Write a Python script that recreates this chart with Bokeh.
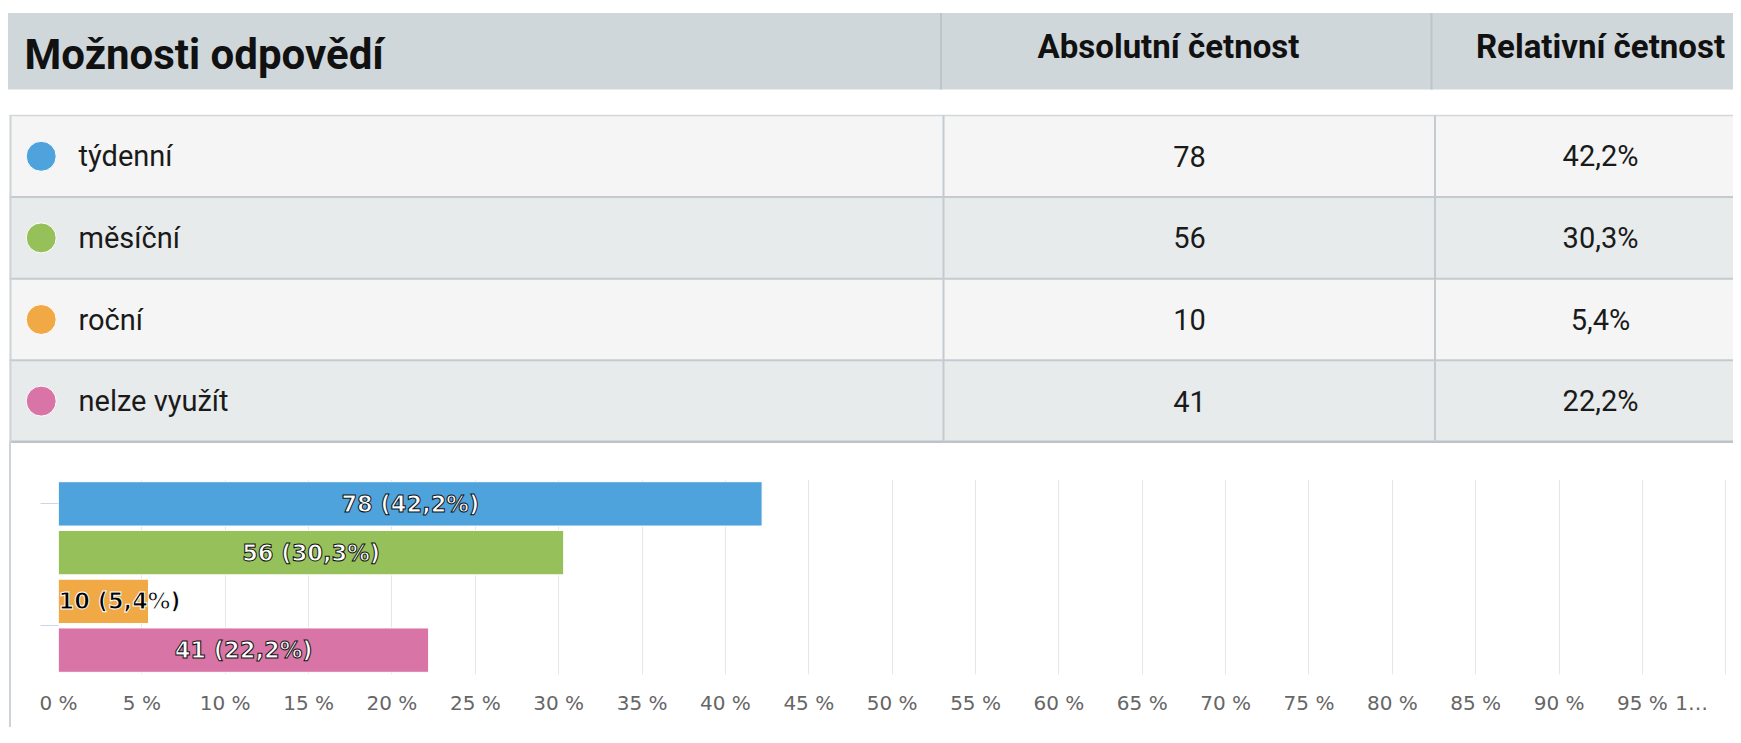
from bokeh.plotting import figure
from bokeh.models import Range1d, FixedTicker, Div
from bokeh.layouts import column, row
from bokeh.core.properties import value
from bokeh.embed import file_html
from bokeh.resources import INLINE

# ---------------- data ----------------
categories = ["týdenní", "měsíční", "roční", "nelze využít"]
counts = [78, 56, 10, 41]
percents = [42.2, 30.3, 5.4, 22.2]
colors = ["#4fa3dc", "#96c15a", "#f0a944", "#d874a6"]
header_title = "Možnosti odpovědí"
col_headers = ["Absolutní četnost", "Relativní četnost"]
tick_values = list(range(0, 101, 5))
tick_labels = [f"{t} %" for t in tick_values[:-1]] + ["1…" + "\u00a0" * 4]


def cz(p):
    return f"{p:.1f}".replace(".", ",") + "%"


pct_texts = [cz(p) for p in percents]
count_texts = [str(c) for c in counts]
bar_texts = [f"{c} ({cz(p)})" for c, p in zip(counts, percents)]

# ---------------- layout constants ----------------
W = 1733
TABLE_H = 443
CHART_H = 284
FONT = "Roboto"

# ---------------- table ----------------
t = figure(width=W, height=TABLE_H, x_range=Range1d(0, W), y_range=Range1d(TABLE_H, 0),
           output_backend="svg", toolbar_location=None, min_border=0,
           x_axis_location=None, y_axis_location=None)
t.grid.visible = False
t.outline_line_color = None
t.background_fill_color = "white"
t.border_fill_color = "white"

# header
t.quad(left=7.5, right=W, top=12.5, bottom=89, fill_color="#d0d7db", line_color=None)
t.segment(x0=[940.5, 1431], y0=[12.5, 12.5], x1=[940.5, 1431], y1=[89, 89],
          line_color="#bcc5c9", line_width=2)
t.text(x=[24], y=[54], text=[header_title], text_font=value(FONT), text_font_size="42px",
       text_font_style="bold", text_baseline="middle", text_color="#111111")
t.text(x=[1168, 1600], y=[46, 46], text=col_headers, text_font=value(FONT),
       text_font_size="33px", text_font_style="bold", text_align="center",
       text_baseline="middle", text_color="#111111")

# rows
row_top = 115
row_h = 81.6
n = len(categories)
tops = [row_top + i * row_h for i in range(n)]
bottoms = [tp + row_h for tp in tops]
centers = [tp + row_h / 2 for tp in tops]
row_fill = ["#f5f5f5" if i % 2 == 0 else "#e8ebec" for i in range(n)]
t.quad(left=9, right=W, top=tops, bottom=bottoms, fill_color=row_fill, line_color=None)

t.segment(x0=[9], y0=[row_top], x1=[W], y1=[row_top], line_color="#d2d7da", line_width=1.5)
t.segment(x0=[9] * (n - 1), y0=bottoms[:-1], x1=[W] * (n - 1), y1=bottoms[:-1],
          line_color="#c3cbcf", line_width=2)
t.segment(x0=[9], y0=[bottoms[-1]], x1=[W], y1=[bottoms[-1]], line_color="#bcc4c8", line_width=3)
t.segment(x0=[10], y0=[row_top], x1=[10], y1=[TABLE_H], line_color="#cdd3d6", line_width=2)
t.segment(x0=[943, 1434.5], y0=[row_top, row_top], x1=[943, 1434.5], y1=[bottoms[-1]] * 2,
          line_color="#c3cbcf", line_width=2)

t.scatter(x=[40.7] * n, y=centers, size=30, marker="circle", fill_color=colors,
          line_color="white", line_width=1)
t.text(x=[78] * n, y=centers, text=categories, text_font=value(FONT), text_font_size="29px",
       text_baseline="middle", text_color="#1a1a1a")
t.text(x=[1189] * n, y=centers, text=count_texts, text_font=value(FONT), text_font_size="29px",
       text_baseline="middle", text_align="center", text_color="#1a1a1a")
t.text(x=[1600] * n, y=centers, text=pct_texts, text_font=value(FONT), text_font_size="29px",
       text_baseline="middle", text_align="center", text_color="#1a1a1a")

# ---------------- bar chart ----------------
CW = W - 11
c = figure(width=CW, height=CHART_H, x_range=Range1d(0, 100.46), y_range=Range1d(4, 0),
           output_backend="svg", toolbar_location=None,
           min_border_left=47, min_border_right=0, min_border_top=36, min_border_bottom=53)
c.outline_line_color = None
c.background_fill_color = "white"
c.border_fill_color = "white"
c.ygrid.visible = False
c.xgrid.grid_line_color = "#e6e6e6"
c.xgrid.grid_line_width = 1

c.xaxis.ticker = FixedTicker(ticks=tick_values)
c.xaxis.major_label_overrides = dict(zip(tick_values, tick_labels))
c.xaxis.axis_line_color = None
c.xaxis.major_tick_line_color = None
c.xaxis.minor_tick_line_color = None
c.xaxis.major_label_text_font = "DejaVu Sans"
c.xaxis.major_label_text_font_size = "20px"
c.xaxis.major_label_text_color = "#666666"
c.xaxis.major_label_standoff = 10

c.yaxis.ticker = FixedTicker(ticks=[0.5, 3.0])
c.yaxis.major_label_overrides = {0.5: "", 3.0: ""}
c.yaxis.axis_line_color = None
c.yaxis.minor_tick_line_color = None
c.yaxis.major_tick_line_color = "#ccd6eb"
c.yaxis.major_tick_in = 0
c.yaxis.major_tick_out = 18

ys = [i + 0.5 for i in range(n)]
c.hbar(y=ys, left=0, right=percents, height=0.91, fill_color=colors, line_color="white",
       line_width=1)

inside = [i for i in range(n) if percents[i] >= 10]
outside = [i for i in range(n) if percents[i] < 10]
c.text(x=[percents[i] / 2 for i in inside], y=[ys[i] for i in inside],
       text=[bar_texts[i] for i in inside], text_font=value("DejaVu Sans"),
       text_font_size="22.5px", text_font_style="bold", text_align="center",
       text_baseline="middle", text_color="white", text_outline_color="#111111")
c.text(x=[0] * len(outside), y=[ys[i] for i in outside],
       text=[bar_texts[i] for i in outside], text_font=value("DejaVu Sans"),
       text_font_size="22.5px", text_font_style="bold", text_align="left",
       text_baseline="middle", text_color="black", text_outline_color="white")

gap = Div(width=9, height=CHART_H, styles={"background-color": "white"}, margin=0)
border = Div(width=2, height=CHART_H, styles={"background-color": "#cdd3d6"}, margin=0)

layout = column(t, row(gap, border, c, spacing=0), spacing=0)
open("out.html", "w").write(file_html(layout, INLINE))
